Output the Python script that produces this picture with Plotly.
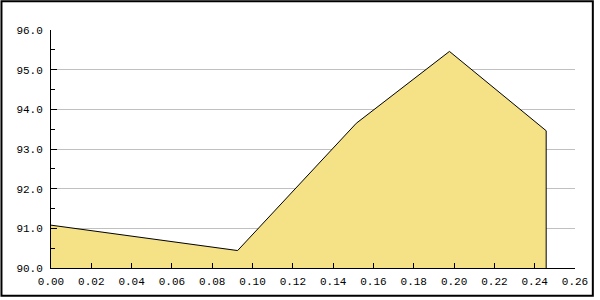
import plotly.graph_objects as go

x_vals = [0.0, 0.0926, 0.1515, 0.1977, 0.2457]
y_vals = [91.08, 90.44, 93.65, 95.46, 93.46]
y_min, y_max = 90.0, 96.0
x_min, x_max = 0.0, 0.26
x_ticks = [i / 100 for i in range(0, 27, 2)]
y_ticks = [90.0, 91.0, 92.0, 93.0, 94.0, 95.0, 96.0]

W, H = 600, 300
L, R, T, B = 51, 20, 30, 30
pw, ph = W - L - R, H - T - B

fig = go.Figure()
fig.add_trace(go.Scatter(
    x=x_vals + [x_vals[-1]], y=y_vals + [y_min],
    mode="lines", fill="tozeroy", fillcolor="#f5e186",
    line=dict(color="black", width=1), hoverinfo="skip", showlegend=False,
))

font = dict(family="Liberation Mono", size=11, color="black")
fig.update_layout(
    width=W, height=H, margin=dict(l=L, r=R, t=T, b=B), autosize=False,
    paper_bgcolor="white", plot_bgcolor="white", showlegend=False,
    xaxis=dict(range=[x_min, x_max], tickvals=x_ticks,
               ticktext=[f"{v:.2f}" for v in x_ticks],
               showgrid=False, zeroline=False, showline=True, linecolor="black",
               linewidth=1, ticks="inside", ticklen=5, tickcolor="black",
               tickfont=font, ticklabelstandoff=3),
    yaxis=dict(range=[y_min, y_max], tickvals=y_ticks,
               ticktext=[f"{v:.1f}" for v in y_ticks],
               showgrid=True, gridcolor="#c0c0c0", gridwidth=1,
               zeroline=False, showline=True, linecolor="black", linewidth=1,
               ticks="inside", ticklen=6, tickcolor="black", tickfont=font,
               ticklabelstandoff=5,
               minor=dict(dtick=0.5, ticks="inside", ticklen=4, tickcolor="black",
                          showgrid=False)),
    shapes=[dict(type="rect", xref="paper", yref="paper",
                 x0=(1 - L) / pw, x1=(W - 2 - L) / pw,
                 y0=(T + ph - (H - 2)) / ph, y1=(T + ph - 1) / ph,
                 line=dict(color="black", width=2), fillcolor="rgba(0,0,0,0)",
                 layer="above")],
)
fig.write_html("out.html", config={"responsive": False})
